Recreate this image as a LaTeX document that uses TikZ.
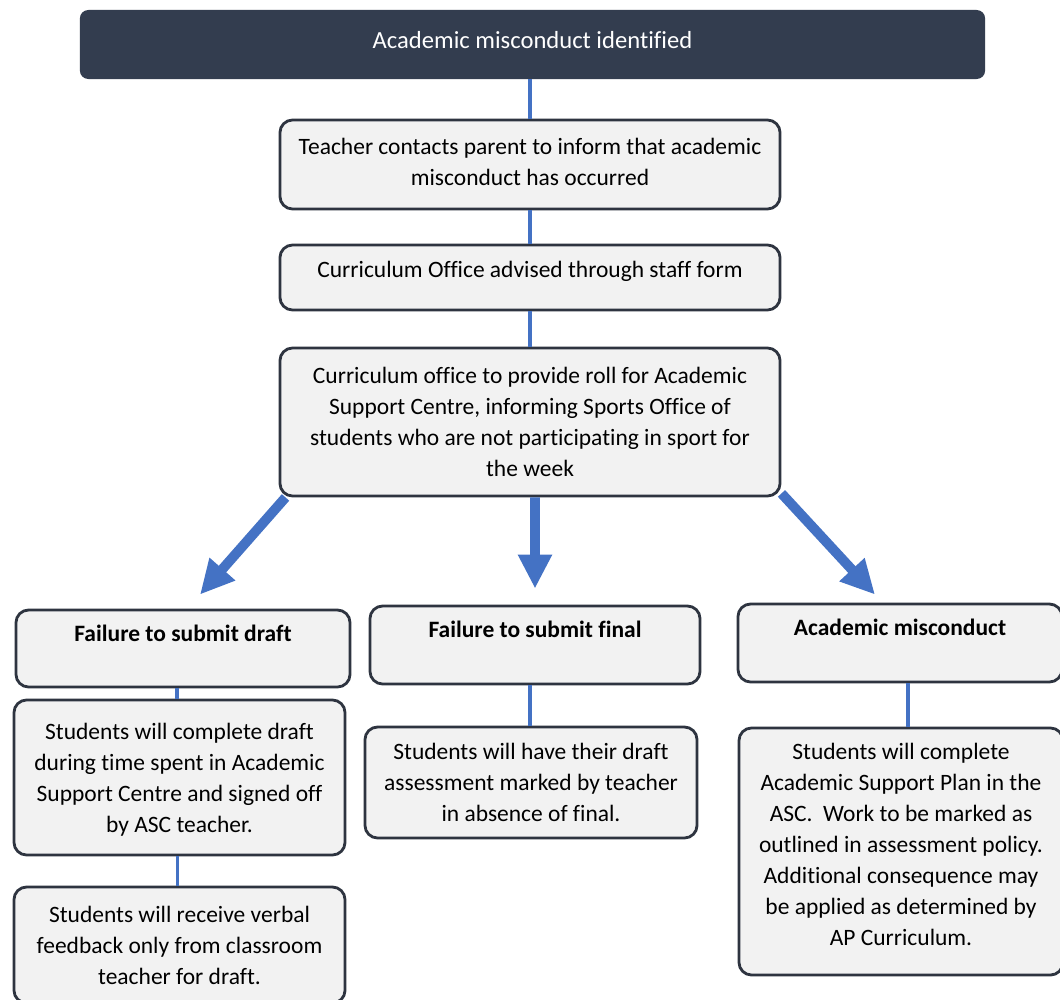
\documentclass[tikz,border=0pt]{standalone}
\usepackage{fontspec}
\setmainfont{Carlito}[Ligatures=NoCommon]
\usetikzlibrary{arrows.meta}
\definecolor{navy}{HTML}{333D4F}
\definecolor{edge}{HTML}{2E3440}
\definecolor{boxfill}{HTML}{F2F2F2}
\definecolor{flow}{HTML}{4472C4}
\tikzset{
	stepbox/.style={draw=edge, line width=2pt, fill=boxfill, rounded corners=9pt, align=center, inner sep=0pt},
	headbox/.style={stepbox, font=\fontsize{16.7pt}{22pt}\selectfont\bfseries},
	link/.style={draw=flow, line width=2.2pt},
	bigarrow/.style={draw=flow, line width=7pt, -{Triangle[width=0.8cm, length=0.85cm]}, flow}
}
\begin{document}
\begin{tikzpicture}[x=0.025cm, y=-0.025cm, font=\fontsize{16.7pt}{22pt}\selectfont]
		%%%%% START %%%%%
		\useasboundingbox (0, 0) rectangle (1060, 1000);
		\fill[white] (0, 0) rectangle (1060, 1000);
		
		\node[fill=navy, rounded corners=6pt, minimum width=22.625cm, minimum height=1.725cm, text=white, font=\fontsize{17.5pt}{22pt}\selectfont, text depth=6pt] (top) at (532.5, 44.5) {Academic misconduct identified};
		
		\node[stepbox, minimum width=12.5cm, minimum height=2.225cm, text depth=4pt] (teach) at (530, 164.5) {Teacher contacts parent to inform that academic\\misconduct has occurred};
		\node[stepbox, minimum width=12.5cm, minimum height=1.625cm, text depth=12pt] (curr) at (530, 277.5) {Curriculum Office advised through staff form};
		\node[stepbox, minimum width=12.5cm, minimum height=3.7cm] (roll) at (530, 422) {Curriculum office to provide roll for Academic\\Support Centre, informing Sports Office of\\students who are not participating in sport for\\the week};
		
		\draw[link] (top.south -| teach.north) -- (teach.north);
		\draw[link] (teach) -- (curr);
		\draw[link] (curr) -- (roll);
		
		% three outcomes
		\node[headbox, minimum width=8.35cm, minimum height=1.925cm] (fdraft) at (183, 648.5) {Failure to submit draft\\~};
		\node[headbox, minimum width=8.25cm, minimum height=1.95cm] (ffinal) at (535, 645) {Failure to submit final\\~};
		\node[headbox, minimum width=8.1cm, minimum height=1.95cm] (amisc) at (900, 643) {Academic misconduct\\~};
		
		\coordinate (tipl) at ([xshift=0.425cm, yshift=0.35cm]fdraft.north);
		\coordinate (tipm) at ([yshift=0.4cm]ffinal.north);
		\coordinate (tipr) at ([xshift=-0.625cm, yshift=0.2cm]amisc.north);
		\draw[bigarrow] ([xshift=0.175cm]roll.south west) -- (tipl);
		\draw[bigarrow] (roll.south) ++(0.125cm, 0) -- (tipm);
		\draw[bigarrow] ([yshift=0.1cm]roll.south east) -- (tipr);
		
		\node[stepbox, minimum width=8.275cm, minimum height=3.875cm, text depth=-6pt] (ascdraft) at (179.5, 777.5) {Students will complete draft\\during time spent in Academic\\Support Centre and signed off\\by ASC teacher.};
		\node[stepbox, minimum width=8.275cm, minimum height=2.9cm] (verbal) at (179.5, 945) {Students will receive verbal\\feedback only from classroom\\teacher for draft.};
		\node[stepbox, minimum width=8.3cm, minimum height=2.775cm] (marked) at (531, 782.5) {Students will have their draft\\assessment marked by teacher\\in absence of final.};
		\node[stepbox, minimum width=8.1cm, minimum height=6.175cm, text depth=10pt] (plan) at (901, 851.5) {Students will complete\\Academic Support Plan in the\\ASC.~ Work to be marked as\\outlined in assessment policy.\\Additional consequence may\\be applied as determined by\\AP Curriculum.};
		
		\draw[link] ([xshift=-0.15cm]fdraft.south) -- ([xshift=-0.15cm]fdraft.south |- ascdraft.north);
		\draw[link] ([xshift=-0.06cm]ascdraft.south) -- ([xshift=-0.06cm]ascdraft.south |- verbal.north);
		\draw[link] ([xshift=-0.125cm]ffinal.south) -- ([xshift=-0.125cm]ffinal.south |- marked.north);
		\draw[link] ([xshift=0.2cm]amisc.south) -- ([xshift=0.2cm]amisc.south |- plan.north);
		%%%%% END %%%%%
\end{tikzpicture}
\end{document}
